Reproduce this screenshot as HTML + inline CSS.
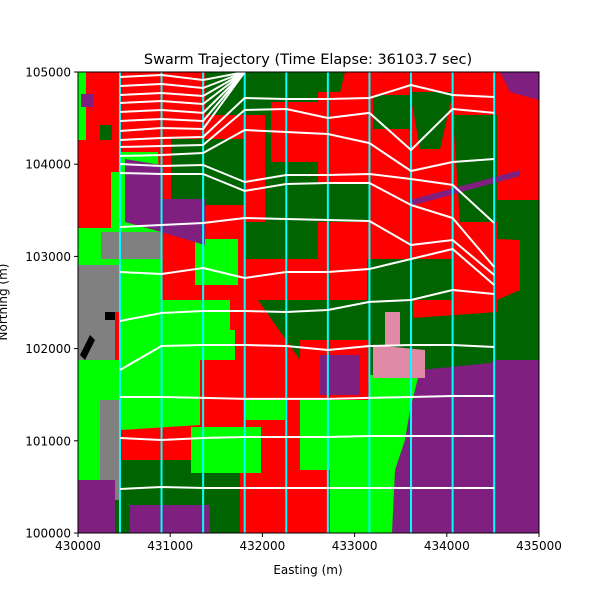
<!DOCTYPE html>
<html><head><meta charset="utf-8"><style>
body{margin:0;background:#fff}
svg text{font-family:"DejaVu Sans","Liberation Sans",sans-serif;fill:#000}
</style></head><body>
<svg id="chart" width="600" height="600" xmlns="http://www.w3.org/2000/svg">
<rect width="600" height="600" fill="#fff"/>
<defs><clipPath id="pc"><rect x="78" y="72" width="461" height="461"/></clipPath></defs>
<g id="map" clip-path="url(#pc)">
<rect x="78" y="72" width="461" height="461" fill="#ff0000"/>
<!-- dark green regions -->
<polygon fill="#006400" points="205,72 318,72 318,102 271,102 271,162 318,162 318,232 265,232 265,115 205,115"/>
<polygon fill="#006400" points="171,139 245,139 245,205 171,205"/>
<polygon fill="#006400" points="245,222 318,222 318,259 245,259"/>
<polygon fill="#006400" points="300,72 345,72 340,92 300,92"/>
<polygon fill="#006400" points="373,95 410,95 410,129 373,129"/>
<polygon fill="#006400" points="410,92 453,92 440,149 420,149"/>
<polygon fill="#006400" points="453,115 497,115 497,222 460,222"/>
<polygon fill="#006400" points="300,182 370,182 370,222 300,222"/>
<polygon fill="#006400" points="367,259 453,259 453,312 367,312"/>
<polygon fill="#006400" points="497,200 539,200 539,360 497,360 497,300 520,290 520,240 497,239"/>
<polygon fill="#006400" points="258,300 318,300 318,393 300,360"/>
<polygon fill="#006400" points="300,300 420,300 420,380 300,380"/>
<polygon fill="#006400" points="420,310 497,310 497,370 420,370"/>
<polygon fill="#006400" points="100,125 112,125 112,140 100,140"/>
<polygon fill="#006400" points="110,460 240,460 240,533 110,533"/>
<!-- red patches over green -->
<polygon fill="#ff0000" points="300,340 370,340 370,400 300,400"/>
<polygon fill="#ff0000" points="413,300 497,300 497,312 413,318"/>
<!-- lime regions -->
<polygon fill="#00ff00" points="78,72 86,72 86,140 78,140"/>
<polygon fill="#00ff00" points="111,172 121,172 121,312 111,312"/>
<polygon fill="#00ff00" points="120,152 158,152 160,228 120,228"/>
<polygon fill="#00ff00" points="78,228 161,228 161,312 78,312"/>
<polygon fill="#00ff00" points="195,239 238,239 238,285 195,285"/>
<polygon fill="#00ff00" points="78,360 120,360 120,480 78,480"/>
<polygon fill="#00ff00" points="120,300 230,300 230,330 200,360 200,425 120,430"/>
<polygon fill="#00ff00" points="190,330 235,330 235,360 190,360"/>
<polygon fill="#00ff00" points="191,427 261,427 261,473 191,473"/>
<polygon fill="#00ff00" points="245,400 285,400 285,420 245,420"/>
<polygon fill="#00ff00" points="370,375 420,375 410,440 400,533 330,533 330,470 300,470 300,400 370,400"/>
<!-- gray -->
<polygon fill="#808080" points="78,265 121,265 121,312 78,312"/>
<polygon fill="#808080" points="101,232 161,232 161,259 101,259"/>
<polygon fill="#808080" points="78,300 115,300 115,360 78,360"/>
<polygon fill="#808080" points="100,400 120,400 120,500 100,500"/>
<!-- purple -->
<polygon fill="#7f1f7f" points="81,94 93,94 93,107 81,107"/>
<polygon fill="#7f1f7f" points="125,159 161,165 161,199 205,199 205,245 161,232 125,222"/>
<polygon fill="#7f1f7f" points="78,480 115,480 115,533 78,533"/>
<polygon fill="#7f1f7f" points="130,505 210,505 210,533 130,533"/>
<polygon fill="#7f1f7f" points="320,355 360,355 360,395 320,395"/>
<polygon fill="#7f1f7f" points="392,533 395,470 405,440 410,410 420,370 450,367 490,363 496,360 539,360 539,533"/>
<polygon fill="#7f1f7f" points="500,72 539,72 539,100 510,92"/>
<polygon fill="#7f1f7f" points="410,200 520,170 520,176 410,206"/>
<!-- pink -->
<polygon fill="#e08aa8" points="373,345 425,350 425,378 373,378"/>
<polygon fill="#e08aa8" points="385,312 400,312 400,345 385,345"/>
<!-- black -->
<rect x="105" y="312" width="10" height="8" fill="#000"/>
<polygon fill="#000" points="80,355 90,335 95,340 85,360"/>
</g>
<g id="cols" clip-path="url(#pc)"></g>
<g id="trajs" clip-path="url(#pc)"></g>
<rect x="78" y="72" width="461" height="461" fill="none" stroke="#000" stroke-width="1"/>
<g id="axes"></g>
<text x="308" y="64" text-anchor="middle" font-size="14.5">Swarm Trajectory (Time Elapse: 36103.7 sec)</text>
<text x="308" y="574" text-anchor="middle" font-size="12">Easting (m)</text>
<text transform="translate(7,302) rotate(-90)" text-anchor="middle" font-size="12">Northing (m)</text>
</svg>
<script>
const columnEastings = [430455, 430906, 431357, 431808, 432259, 432710, 433161, 433612, 434063, 434514];
const xTicks = [430000, 431000, 432000, 433000, 434000, 435000];
const yTicks = [100000, 101000, 102000, 103000, 104000, 105000];
const trajApex1 = [104946, 104967, 104913, 105000];
const trajApex2 = [104848, 104870, 104827, 105000];
const trajApex3 = [104751, 104772, 104740, 105000];
const trajApex4 = [104664, 104686, 104653, 105000];
const trajApex5 = [104566, 104588, 104556, 105000];
const trajApex6 = [104469, 104490, 104469, 105000];
const trajApex7 = [104360, 104393, 104382, 105000];
const traj1 = [104262, 104284, 104295, 104718, 104707, 104707, 104718, 104859, 104751, 104729];
const traj2 = [104187, 104197, 104208, 104588, 104599, 104501, 104556, 104154, 104599, 104556];
const traj3 = [104089, 104100, 104122, 104371, 104349, 104328, 104229, 103926, 104024, 104056];
const traj4 = [104002, 103981, 103991, 103807, 103883, 103883, 103894, 103840, 103775, 103362];
const traj5 = [103905, 103894, 103894, 103710, 103785, 103796, 103796, 103557, 103417, 102885];
const traj6 = [103319, 103341, 103362, 103417, 103406, 103395, 103384, 103124, 103178, 102798];
const traj7 = [102831, 102809, 102874, 102766, 102831, 102831, 102863, 102972, 103080, 102690];
const traj8 = [102299, 102386, 102408, 102408, 102397, 102419, 102506, 102527, 102636, 102592];
const traj9 = [101768, 102028, 102039, 102039, 102028, 101985, 102028, 102039, 102039, 102017];
const traj10 = [101475, 101475, 101465, 101454, 101454, 101454, 101465, 101475, 101486, 101486];
const traj11 = [101030, 101009, 101030, 101041, 101041, 101041, 101052, 101052, 101052, 101052];
const traj12 = [100477, 100499, 100488, 100488, 100488, 100488, 100488, 100488, 100488, 100488];
const trajectories = [trajApex1, trajApex2, trajApex3, trajApex4, trajApex5, trajApex6, trajApex7,
  traj1, traj2, traj3, traj4, traj5, traj6, traj7, traj8, traj9, traj10, traj11, traj12];

const NS = "http://www.w3.org/2000/svg";
const X0 = 78, Y0 = 72, W = 461, H = 461;
function xS(e) { return X0 + (e - 430000) * W / 5000; }
function yS(n) { return Y0 + H - (n - 100000) * H / 5000; }
function mk(tag, attrs) { const el = document.createElementNS(NS, tag); for (const k in attrs) el.setAttribute(k, attrs[k]); return el; }

const cols = document.getElementById('cols');
columnEastings.forEach((e, i) => {
  const l = mk('line', {x1: xS(e), x2: xS(e), y1: Y0, y2: Y0 + H, stroke: '#00ffff', 'stroke-width': 2});
  
  
  cols.appendChild(l);
});

const tg = document.getElementById('trajs');
trajectories.forEach((t, i) => {
  const pts = t.map((n, j) => xS(columnEastings[j]).toFixed(1) + ',' + yS(n).toFixed(1)).join(' ');
  const p = mk('polyline', {points: pts, fill: 'none', stroke: '#ffffff', 'stroke-width': 2, 'stroke-linejoin': 'round'});
  
  
  tg.appendChild(p);
});

const ax = document.getElementById('axes');
xTicks.forEach(v => {
  const x = xS(v);
  const t = mk('line', {x1: x, x2: x, y1: Y0 + H, y2: Y0 + H + 4, stroke: '#000'});
  
  
  ax.appendChild(t);
  const tx = mk('text', {x: x, y: Y0 + H + 17, 'text-anchor': 'middle', 'font-size': 12});
  tx.textContent = v;
  
  
  ax.appendChild(tx);
});
yTicks.forEach(v => {
  const y = yS(v);
  const t = mk('line', {x1: X0 - 4, x2: X0, y1: y, y2: y, stroke: '#000'});
  
  
  ax.appendChild(t);
  const tx = mk('text', {x: X0 - 7, y: y + 4.5, 'text-anchor': 'end', 'font-size': 12});
  tx.textContent = v;
  
  
  ax.appendChild(tx);
});
</script>
</body></html>
